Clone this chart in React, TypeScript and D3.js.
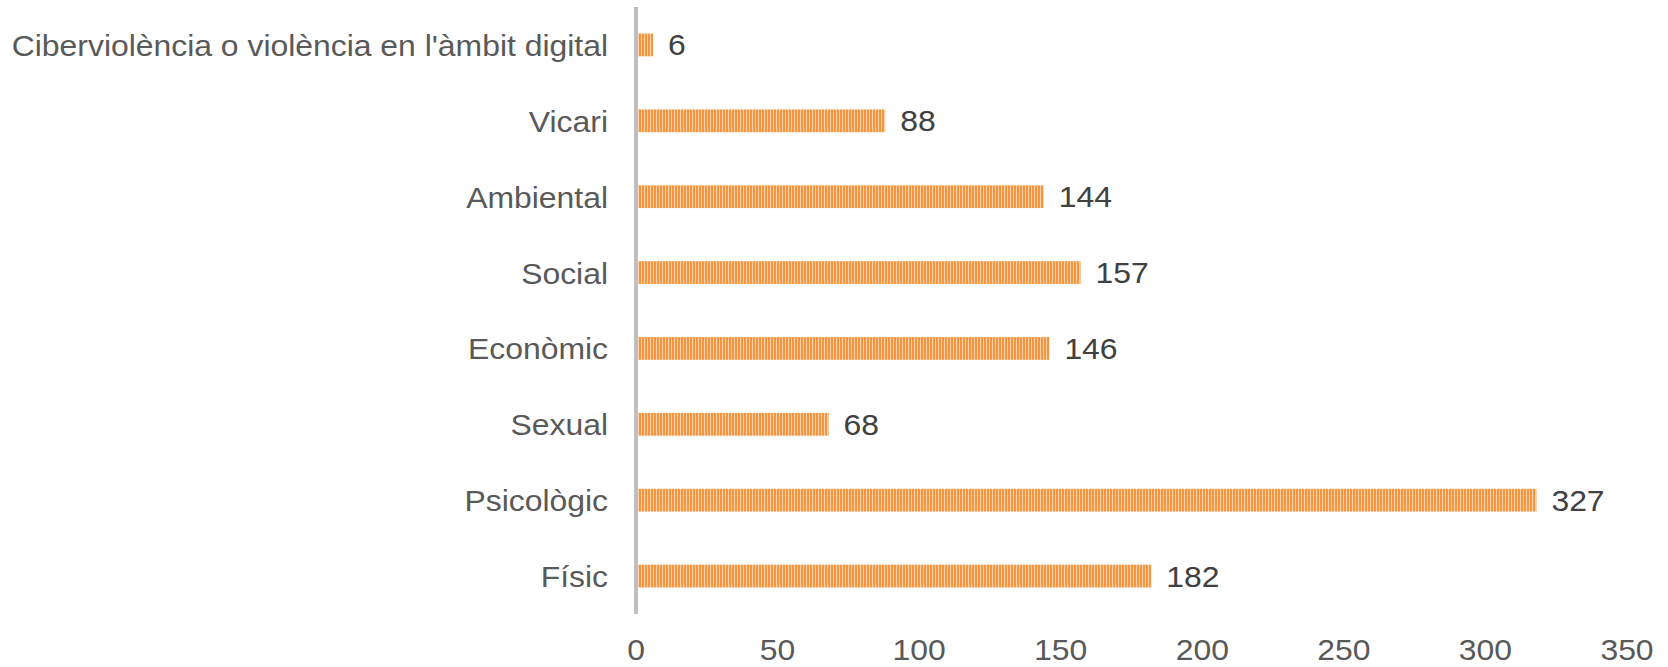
import React from "react";
import * as d3 from "d3";

const categories = [
  "Físic",
  "Psicològic",
  "Sexual",
  "Econòmic",
  "Social",
  "Ambiental",
  "Vicari",
  "Ciberviolència o violència en l'àmbit digital",
];
// data labels as printed
const labelValues = [182, 327, 68, 146, 157, 144, 88, 6];
// bar lengths as drawn in the picture
const barValues = [182, 318, 68, 146, 157, 144, 88, 6];
const xTicks = [0, 50, 100, 150, 200, 250, 300, 350];

const W = 1668;
const H = 667;
const STRETCH = 1.1;
const FS = 29;
const FONT = "'Liberation Sans', Arial, sans-serif";

export default function App() {
  const x = d3.scaleLinear().domain([0, 350]).range([636, 1627]);
  const y = d3
    .scaleBand<string>()
    .domain([...categories].reverse())
    .range([7, 614])
    .paddingInner(0.7)
    .paddingOuter(0.35);
  const bh = y.bandwidth();

  return (
    <svg
      width={W}
      height={H}
      style={{ position: "absolute", left: 0, top: 0, background: "#fff" }}
    >
      <defs>
        <pattern id="stripes" patternUnits="userSpaceOnUse" width={3} height={10}>
          <rect x={0} y={0} width={3} height={10} fill="#F7943E" />
          <rect x={2} y={0} width={1} height={10} fill="#FBD3AE" />
        </pattern>
      </defs>
      {categories.map((c, i) => {
        const yc = (y(c) as number) + bh / 2;
        return (
          <g key={c}>
            <rect
              x={x(0)}
              y={y(c)}
              width={x(barValues[i]) - x(0)}
              height={bh}
              fill="url(#stripes)"
            />
            <text
              transform={`translate(${x(barValues[i]) + 15},${yc + 10.5}) scale(${STRETCH},1)`}
              fontFamily={FONT}
              fontSize={FS}
              fill="#404040"
            >
              {labelValues[i]}
            </text>
            <text
              transform={`translate(608,${yc + 11}) scale(${STRETCH},1)`}
              textAnchor="end"
              fontFamily={FONT}
              fontSize={FS}
              fill="#595959"
            >
              {c}
            </text>
          </g>
        );
      })}
      <line x1={x(0)} x2={x(0)} y1={7} y2={614} stroke="#BFBFBF" strokeWidth={4} />
      {xTicks.map((t) => (
        <text
          key={t}
          transform={`translate(${x(t)},660) scale(${STRETCH},1)`}
          textAnchor="middle"
          fontFamily={FONT}
          fontSize={FS}
          fill="#595959"
        >
          {t}
        </text>
      ))}
    </svg>
  );
}
